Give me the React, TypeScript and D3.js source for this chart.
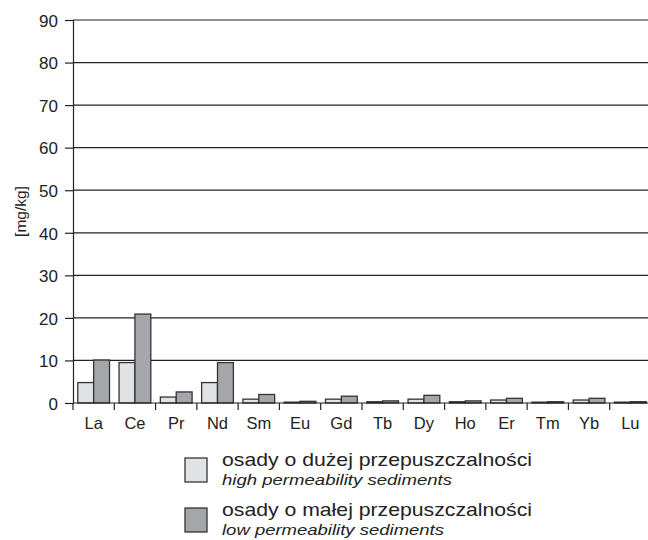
import { useEffect, useRef } from 'react';
import * as d3 from 'd3';

const elements = ['La', 'Ce', 'Pr', 'Nd', 'Sm', 'Eu', 'Gd', 'Tb', 'Dy', 'Ho', 'Er', 'Tm', 'Yb', 'Lu'];
const highPerm = [4.8, 9.5, 1.4, 4.8, 0.9, 0.2, 0.9, 0.3, 0.9, 0.3, 0.7, 0.2, 0.7, 0.2];
const lowPerm = [10.1, 20.9, 2.6, 9.5, 2.0, 0.4, 1.6, 0.5, 1.8, 0.5, 1.1, 0.3, 1.1, 0.3];
const yTicks = [0, 10, 20, 30, 40, 50, 60, 70, 80, 90];

const legendItems = [
  { pl: 'osady o dużej przepuszczalności', en: 'high permeability sediments', color: '#e1e2e4' },
  { pl: 'osady o małej przepuszczalności', en: 'low permeability sediments', color: '#a5a6a9' },
];

function App() {
  const svgRef = useRef<SVGSVGElement>(null);

  useEffect(() => {
    const svg = d3.select(svgRef.current);
    svg.selectAll('*').remove();

    const left = 73,
      right = 651,
      top = 20,
      bottom = 403;
    const font = 'Liberation Sans, Arial, sans-serif';

    const x = d3.scaleBand().domain(elements).range([left, right]);
    const y = d3.scaleLinear().domain([0, 90]).range([bottom, top]);
    const sub = d3
      .scaleBand()
      .domain(['high', 'low'])
      .range([0, x.bandwidth()])
      .paddingOuter(0.3)
      .paddingInner(0);

    // gridlines
    svg
      .append('g')
      .selectAll('line')
      .data(yTicks.filter((d) => d > 0))
      .join('line')
      .attr('x1', left)
      .attr('x2', right)
      .attr('y1', (d) => y(d))
      .attr('y2', (d) => y(d))
      .attr('stroke', '#222')
      .attr('stroke-width', 1.2);

    // bars
    const groups = svg
      .append('g')
      .selectAll('g')
      .data(elements)
      .join('g')
      .attr('transform', (d) => `translate(${x(d)},0)`);

    groups
      .append('rect')
      .attr('x', sub('high')!)
      .attr('width', sub.bandwidth())
      .attr('y', (_, i) => y(highPerm[i]))
      .attr('height', (_, i) => bottom - y(highPerm[i]))
      .attr('fill', legendItems[0].color)
      .attr('stroke', '#333')
      .attr('stroke-width', 1.3);

    groups
      .append('rect')
      .attr('x', sub('low')!)
      .attr('width', sub.bandwidth())
      .attr('y', (_, i) => y(lowPerm[i]))
      .attr('height', (_, i) => bottom - y(lowPerm[i]))
      .attr('fill', legendItems[1].color)
      .attr('stroke', '#333')
      .attr('stroke-width', 1.3);

    // y axis
    const yAxis = svg
      .append('g')
      .attr('transform', `translate(${left},0)`)
      .call(d3.axisLeft(y).tickValues(yTicks).tickSize(8).tickPadding(7));
    yAxis.select('.domain').attr('stroke', '#222').attr('stroke-width', 1.2);
    yAxis.selectAll('.tick line').attr('stroke', '#222').attr('stroke-width', 1.2);
    yAxis
      .selectAll('.tick text')
      .attr('font-family', font)
      .attr('font-size', 17)
      .attr('dy', '0.37em')
      .attr('fill', '#222');

    // x axis: baseline, ticks between categories
    svg
      .append('line')
      .attr('x1', left)
      .attr('x2', right)
      .attr('y1', bottom)
      .attr('y2', bottom)
      .attr('stroke', '#222')
      .attr('stroke-width', 1.2);
    svg
      .append('line')
      .attr('x1', left)
      .attr('x2', left)
      .attr('y1', bottom)
      .attr('y2', bottom + 7)
      .attr('stroke', '#222')
      .attr('stroke-width', 1.2);
    svg
      .append('g')
      .selectAll('line')
      .data(elements)
      .join('line')
      .attr('x1', (d) => x(d)! + x.bandwidth())
      .attr('x2', (d) => x(d)! + x.bandwidth())
      .attr('y1', bottom)
      .attr('y2', bottom + 7)
      .attr('stroke', '#222')
      .attr('stroke-width', 1.2);
    svg
      .append('g')
      .selectAll('text')
      .data(elements)
      .join('text')
      .attr('x', (d) => x(d)! + x.bandwidth() / 2)
      .attr('y', bottom + 26)
      .attr('text-anchor', 'middle')
      .attr('font-family', font)
      .attr('font-size', 16.5)
      .attr('fill', '#222')
      .text((d) => d);

    // y label
    svg
      .append('text')
      .attr('transform', `translate(26,${(top + bottom) / 2}) rotate(-90)`)
      .attr('text-anchor', 'middle')
      .attr('font-family', font)
      .attr('font-size', 15.5)
      .attr('fill', '#222')
      .text('[mg/kg]');

    // legend
    const legend = svg
      .append('g')
      .selectAll('g')
      .data(legendItems)
      .join('g')
      .attr('transform', (_, i) => `translate(185,${458 + i * 50})`);
    legend
      .append('rect')
      .attr('width', 22)
      .attr('height', 24)
      .attr('fill', (d) => d.color)
      .attr('stroke', '#333')
      .attr('stroke-width', 1.3);
    legend
      .append('text')
      .attr('x', 37)
      .attr('y', 8)
      .attr('font-family', font)
      .attr('font-size', 18.5)
      .attr('textLength', 310)
      .attr('lengthAdjust', 'spacingAndGlyphs')
      .attr('fill', '#222')
      .text((d) => d.pl);
    legend
      .append('text')
      .attr('x', 37)
      .attr('y', 27)
      .attr('font-family', font)
      .attr('font-size', 15)
      .attr('font-style', 'italic')
      .attr('textLength', (_, i) => (i === 0 ? 230 : 222))
      .attr('lengthAdjust', 'spacingAndGlyphs')
      .attr('fill', '#222')
      .text((d) => d.en);
  }, []);

  return (
    <div style={{ position: 'absolute', left: 0, top: 0 }}>
      <svg ref={svgRef} width={648} height={540} style={{ display: 'block', background: '#fff' }}></svg>
    </div>
  );
}

export default App;
